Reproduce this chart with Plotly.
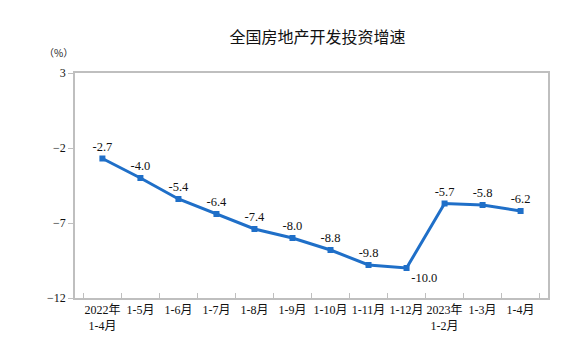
import plotly.graph_objects as go

categories = ["2022年<br>1-4月", "1-5月", "1-6月", "1-7月", "1-8月", "1-9月",
              "1-10月", "1-11月", "1-12月", "2023年<br>1-2月", "1-3月", "1-4月"]
growth = [-2.7, -4.0, -5.4, -6.4, -7.4, -8.0, -8.8, -9.8, -10.0, -5.7, -5.8, -6.2]
label_pos = ["top center"] * 8 + ["bottom right"] + ["top center"] * 3
y_ticks = [3, -2, -7, -12]

serif = "Liberation Serif, Times New Roman, Noto Sans CJK SC, serif"
blue = "#1F6FC8"
grey = "#BFBFBF"

# page body has an 8px default margin; size the figure to fit the 585x359 window
W, H, OFF = 577, 351, 8

fig = go.Figure(go.Scatter(
    x=categories, y=growth, mode="lines+markers+text",
    line=dict(color=blue, width=3),
    marker=dict(symbol="square", size=6, color=blue),
    text=[f"{v:.1f}" for v in growth], textposition=label_pos,
    textfont=dict(family=serif, size=12.5, color="#111111"),
    cliponaxis=False, hoverinfo="skip",
))

fig.update_layout(
    width=W, height=H,
    margin=dict(l=75 - OFF, r=37, t=73 - OFF, b=61),
    paper_bgcolor="white", plot_bgcolor="white",
    showlegend=False,
    title=dict(text="全国房地产开发投资增速", x=(317.5 - OFF) / W, xanchor="center",
               y=1 - (37 - OFF) / H, yanchor="middle",
               font=dict(family="Noto Sans CJK SC, sans-serif", size=16, color="#111111")),
    annotations=[dict(text="（%）", xref="paper", yref="paper", x=(42 - 75) / 473,
                      y=(298 - 52) / 225, xanchor="left", yanchor="middle", showarrow=False,
                      font=dict(family="Noto Sans CJK SC, sans-serif", size=10, color="#222222"))],
)

fig.update_xaxes(
    type="category", showgrid=False, showline=True, linecolor=grey, linewidth=1.5,
    mirror=True, ticks="inside", tickson="boundaries", ticklen=5, tickcolor=grey,
    tickangle=0, automargin=False,
    tickfont=dict(family=serif, size=12, color="#111111"),
)
fig.update_yaxes(
    range=[-12, 3], tickvals=y_ticks, showgrid=False, zeroline=False,
    showline=True, linecolor=grey, linewidth=1.5, mirror=True,
    ticks="outside", ticklen=5, tickcolor=grey, automargin=False,
    tickfont=dict(family=serif, size=12, color="#111111"),
)

fig.write_html("out.html")
